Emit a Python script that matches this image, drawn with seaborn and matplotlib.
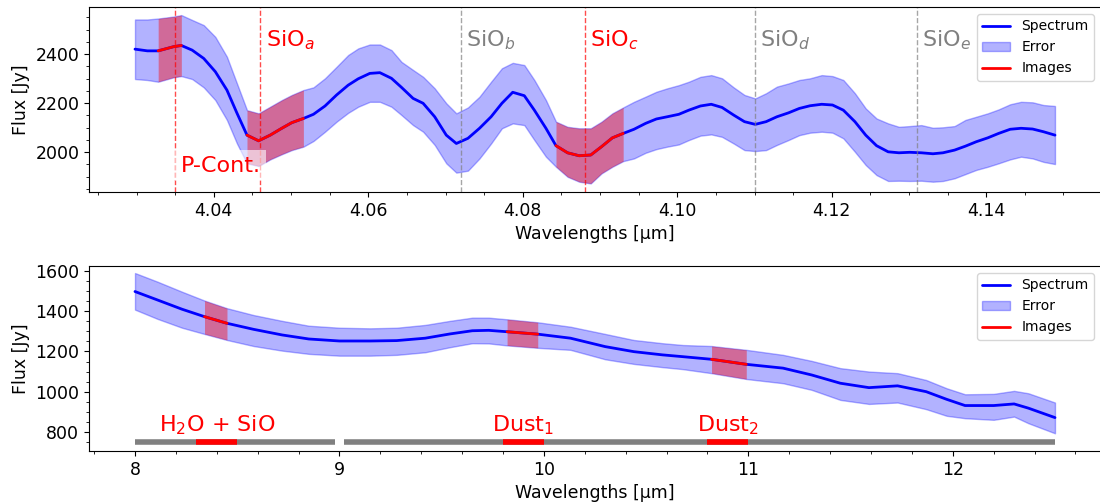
import numpy as np
import pandas as pd
import matplotlib.pyplot as plt
import seaborn as sns
from matplotlib.lines import Line2D
from matplotlib.patches import Patch

# --- top panel: 4.03 - 4.15 um ---
wl_top = [4.0298, 4.0314, 4.0328, 4.0348, 4.0358, 4.0372, 4.0387, 4.0402, 4.0417, 4.0430,
          4.0443, 4.0458, 4.0473, 4.0488, 4.0501, 4.0516, 4.0529, 4.0544, 4.0559, 4.0574,
          4.0587, 4.0602, 4.0615, 4.0630, 4.0643, 4.0658, 4.0671, 4.0686, 4.0701, 4.0714,
          4.0729, 4.0744, 4.0759, 4.0773, 4.0787, 4.0802, 4.0815, 4.0830, 4.0843, 4.0858,
          4.0873, 4.0888, 4.0902, 4.0916, 4.0930, 4.0944, 4.0959, 4.0973, 4.0987, 4.1002,
          4.1015, 4.1030, 4.1044, 4.1058, 4.1073, 4.1087, 4.1101, 4.1115, 4.1129, 4.1144,
          4.1158, 4.1172, 4.1187, 4.1201, 4.1215, 4.1230, 4.1244, 4.1258, 4.1273, 4.1287,
          4.1301, 4.1316, 4.1331, 4.1344, 4.1359, 4.1373, 4.1387, 4.1402, 4.1416, 4.1431,
          4.1445, 4.1460, 4.1474, 4.1489]
flux_top = [2420, 2413, 2413, 2430, 2435, 2416, 2382, 2328, 2253, 2159,
            2069, 2046, 2069, 2097, 2120, 2137, 2154, 2188, 2233, 2273,
            2299, 2321, 2324, 2301, 2264, 2219, 2199, 2144, 2069, 2035,
            2056, 2097, 2144, 2199, 2244, 2230, 2171, 2097, 2026, 1997,
            1985, 1988, 2022, 2058, 2076, 2093, 2117, 2135, 2144, 2154,
            2171, 2188, 2195, 2182, 2151, 2124, 2113, 2124, 2144, 2160,
            2178, 2189, 2195, 2192, 2171, 2124, 2069, 2026, 2001, 1997,
            1999, 1997, 1993, 1997, 2008, 2024, 2042, 2058, 2076, 2093,
            2097, 2094, 2083, 2069]
upper_top = [2541, 2541, 2545, 2553, 2559, 2539, 2518, 2470, 2389, 2280,
             2171, 2158, 2185, 2212, 2233, 2253, 2264, 2301, 2348, 2396,
             2423, 2439, 2439, 2416, 2368, 2335, 2307, 2260, 2199, 2158,
             2182, 2226, 2287, 2342, 2364, 2355, 2294, 2212, 2124, 2103,
             2097, 2097, 2124, 2158, 2182, 2205, 2226, 2246, 2260, 2273,
             2287, 2307, 2314, 2301, 2264, 2233, 2219, 2240, 2267, 2280,
             2294, 2301, 2314, 2310, 2294, 2240, 2178, 2137, 2117, 2103,
             2106, 2110, 2099, 2101, 2106, 2131, 2144, 2158, 2174, 2195,
             2205, 2203, 2192, 2188]
lower_top = [2298, 2294, 2287, 2305, 2310, 2298, 2264, 2212, 2131, 2035,
             1954, 1943, 1970, 1991, 2008, 2022, 2045, 2083, 2124, 2160,
             2185, 2205, 2205, 2185, 2151, 2110, 2083, 2029, 1954, 1916,
             1924, 1974, 2035, 2097, 2117, 2110, 2049, 1981, 1940, 1899,
             1879, 1872, 1913, 1940, 1963, 1974, 1997, 2012, 2022, 2031,
             2049, 2067, 2072, 2062, 2035, 2008, 2004, 2008, 2029, 2049,
             2069, 2079, 2083, 2079, 2056, 2001, 1947, 1906, 1882, 1883,
             1882, 1883, 1879, 1882, 1893, 1910, 1927, 1940, 1954, 1970,
             1981, 1974, 1960, 1951]
bands_top = [(4.0328, 4.0358), (4.0443, 4.0516), (4.0843, 4.0930)]
line_pos = [4.046, 4.072, 4.088, 4.110, 4.131]
line_labels = ['SiO$_a$', 'SiO$_b$', 'SiO$_c$', 'SiO$_d$', 'SiO$_e$']
line_colors = ['red', 'gray', 'red', 'gray', 'gray']
pcont_pos = 4.035

# --- bottom panel: 8 - 12.5 um ---
wl_bot = [8.00, 8.11, 8.23, 8.34, 8.45, 8.58, 8.72, 8.85, 9.00, 9.15, 9.28, 9.42,
          9.54, 9.65, 9.73, 9.82, 9.97, 10.13, 10.30, 10.44, 10.58, 10.68, 10.82,
          10.99, 11.17, 11.31, 11.45, 11.59, 11.73, 11.87, 11.97, 12.06, 12.20,
          12.30, 12.37, 12.50]
flux_bot = [1498, 1456, 1410, 1373, 1340, 1310, 1282, 1262, 1252, 1252, 1254, 1266,
            1287, 1303, 1305, 1298, 1286, 1266, 1224, 1199, 1183, 1174, 1161,
            1136, 1117, 1083, 1042, 1020, 1029, 1000, 962, 931, 931,
            939, 918, 871]
upper_bot = [1590, 1547, 1497, 1453, 1415, 1381, 1352, 1328, 1318, 1315, 1318, 1332,
             1352, 1368, 1368, 1360, 1345, 1323, 1287, 1257, 1241, 1232, 1227,
             1208, 1183, 1153, 1117, 1100, 1092, 1058, 1017, 987, 989,
             1004, 992, 946]
lower_bot = [1408, 1362, 1318, 1287, 1257, 1227, 1204, 1188, 1179, 1179, 1183, 1196,
             1221, 1241, 1240, 1230, 1218, 1208, 1161, 1138, 1122, 1112, 1092,
             1063, 1042, 1009, 959, 939, 946, 913, 880, 868, 860,
             876, 843, 793]
bands_bot = [(8.34, 8.45), (9.82, 9.97), (10.82, 10.99)]
coverage = [(8.0, 8.98), (9.02, 12.5)]
filters = [(8.3, 8.5), (9.8, 10.0), (10.8, 11.0)]
filter_labels = ['H$_2$O + SiO', 'Dust$_1$', 'Dust$_2$']

sns.set_style("ticks", {"axes.edgecolor": "black", "text.color": "black",
                        "axes.labelcolor": "black", "xtick.color": "black",
                        "ytick.color": "black"})
plt.rcParams['font.family'] = ['DejaVu Sans']
plt.rcParams['xtick.labelsize'] = 12.5
plt.rcParams['ytick.labelsize'] = 12.5
plt.rcParams['axes.labelsize'] = 12.5


def draw_panel(ax, wl, flux, up, lo, bands):
    df = pd.DataFrame({'wl': wl, 'flux': flux, 'up': up, 'lo': lo})
    ax.fill_between(df['wl'], df['lo'], df['up'], color='blue', alpha=0.3)
    sns.lineplot(data=df, x='wl', y='flux', color='blue', lw=2, ax=ax)
    for a, b in bands:
        sub = df[(df['wl'] >= a - 1e-9) & (df['wl'] <= b + 1e-9)]
        ax.fill_between(sub['wl'], sub['lo'], sub['up'], color='red', alpha=0.4, lw=0)
        sns.lineplot(data=sub, x='wl', y='flux', color='red', lw=2, ax=ax)
    ax.minorticks_on()
    ax.set_xlabel('Wavelengths [µm]')
    ax.set_ylabel('Flux [Jy]')
    handles = [Line2D([], [], color='blue', lw=2),
               Patch(facecolor='blue', edgecolor='blue', alpha=0.3),
               Line2D([], [], color='red', lw=2)]
    ax.legend(handles, ['Spectrum', 'Error', 'Images'], loc='upper right', fontsize=10)


fig = plt.figure(figsize=(11, 5.03), dpi=100)
ax1 = fig.add_axes([0.0809, 0.6183, 0.92, 0.3678])
ax2 = fig.add_axes([0.0809, 0.1034, 0.92, 0.3678])

draw_panel(ax1, wl_top, flux_top, upper_top, lower_top, bands_top)
ax1.axvline(pcont_pos, color='red', ls='--', lw=1, alpha=0.7)
ax1.text(pcont_pos + 0.0007, 1920, 'P-Cont.', color='red', fontsize=16,
         bbox=dict(facecolor='white', alpha=0.6, edgecolor='none'))
for pos, lab, c in zip(line_pos, line_labels, line_colors):
    ax1.axvline(pos, color=c, ls='--', lw=1, alpha=0.7)
    ax1.text(pos + 0.0007, 2430, lab, color=c, fontsize=16)
ax1.set_ylim(1837, 2592)

draw_panel(ax2, wl_bot, flux_bot, upper_bot, lower_bot, bands_bot)
for a, b in coverage:
    ax2.plot([a, b], [750, 750], color='gray', lw=4, solid_capstyle='butt')
for (a, b), lab in zip(filters, filter_labels):
    ax2.plot([a, b], [750, 750], color='red', lw=4, solid_capstyle='butt')
    ax2.text((a + b) / 2, 800, lab, color='red', fontsize=16, ha='center')
ax2.set_ylim(705, 1625)

plt.savefig('out.png', dpi=100)
plt.close()
